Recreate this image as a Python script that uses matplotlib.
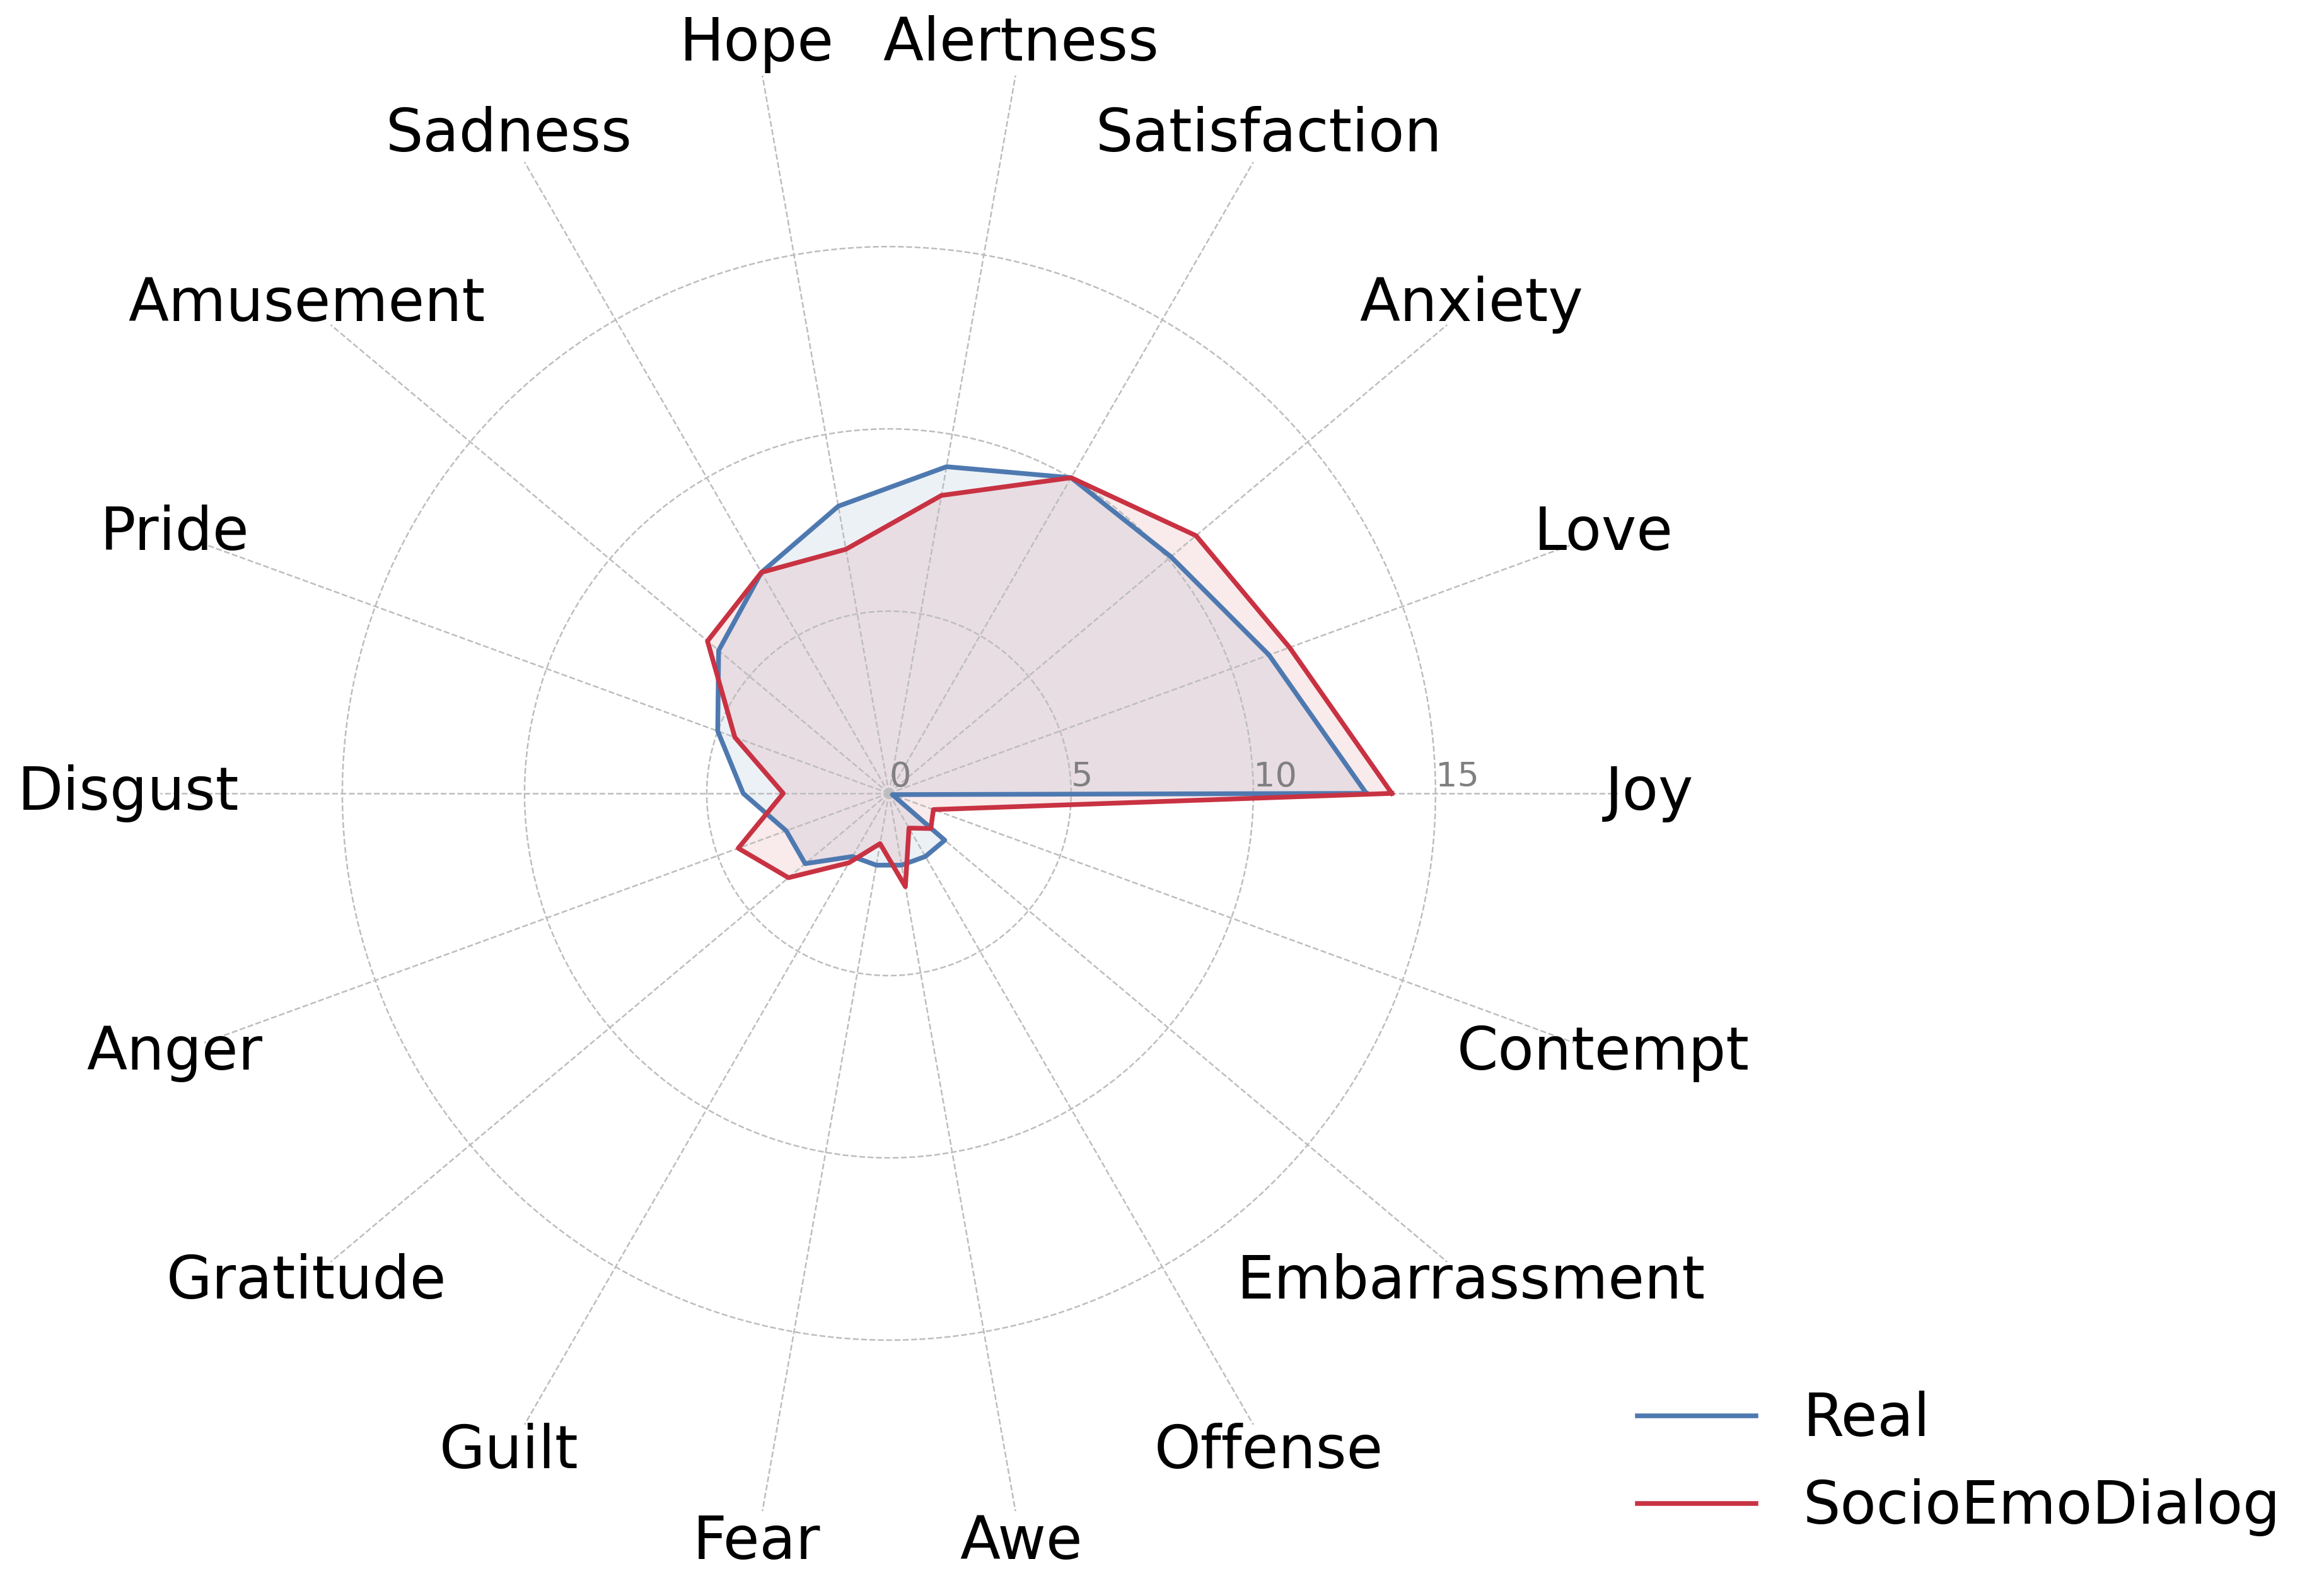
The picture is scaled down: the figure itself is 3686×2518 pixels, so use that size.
import numpy as np
import matplotlib.pyplot as plt

# emotion categories, counter-clockwise starting from Joy at 0 deg
emotions = ['Joy', 'Love', 'Anxiety', 'Satisfaction', 'Alertness', 'Hope', 'Sadness',
            'Amusement', 'Pride', 'Disgust', 'Anger', 'Gratitude', 'Guilt', 'Fear',
            'Awe', 'Offense', 'Embarrassment', 'Contempt']

# share of each emotion (%)
real = [13.1, 11.1, 10.1, 10.0, 9.1, 8.0, 7.0, 6.1, 5.0, 4.0, 3.0, 3.0,
        2.0, 2.0, 2.0, 2.0, 2.0, 0.1]
socio = [13.8, 11.7, 11.0, 10.0, 8.3, 6.8, 7.0, 6.5, 4.5, 2.9, 4.4, 3.6,
         2.2, 1.4, 2.6, 1.1, 1.5, 1.3]

r_ticks = [0, 5, 10, 15]

angles = np.linspace(0, 2 * np.pi, len(emotions), endpoint=False)
angles_closed = np.concatenate([angles, angles[:1]])

fig = plt.figure(figsize=(3686 / 300, 2518 / 300), dpi=300)
ax = fig.add_axes([0.0689, 0.0413, 0.6272, 0.9182], projection='polar')

series = [(real, 'Real', '#4E79B0'), (socio, 'SocioEmoDialog', '#C83242')]
for vals, name, color in series:
    v = np.concatenate([vals, vals[:1]])
    ax.plot(angles_closed, v, color=color, linewidth=1.8, label=name)
    ax.fill(angles_closed, v, color=color, alpha=0.1)

ax.set_xticks(angles)
ax.set_xticklabels(emotions, fontsize=22.5)
ax.tick_params(axis='x', pad=1.5)

ax.set_ylim(0, 20)
ax.set_yticks(r_ticks)
ax.set_yticklabels([str(t) for t in r_ticks], fontsize=13, color='gray')
ax.set_rlabel_position(0)

ax.grid(True, linestyle='--', linewidth=0.6, color='#bdbdbd')
ax.spines['polar'].set_visible(False)

fig.legend(loc='upper left', bbox_to_anchor=(0.6945, 0.139), fontsize=22.5,
           frameon=False, borderaxespad=0)

fig.savefig('out.png', dpi=300)
